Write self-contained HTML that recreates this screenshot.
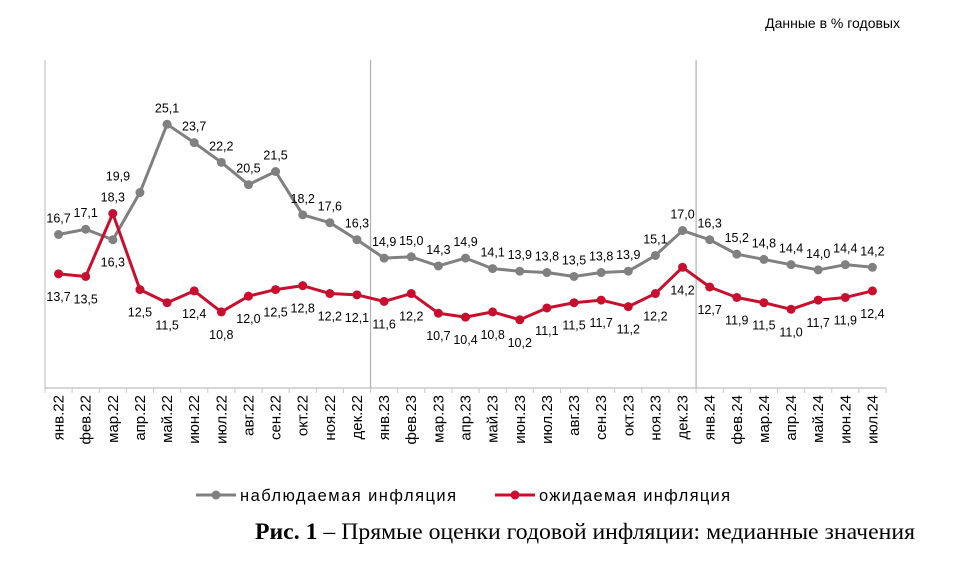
<!DOCTYPE html>
<html><head><meta charset="utf-8"><style>
body{margin:0;background:#fff;width:963px;height:575px;overflow:hidden}
svg{display:block;font-family:"Liberation Sans","DejaVu Sans",sans-serif}
</style></head><body>
<svg id="c" width="963" height="575">
<text x="900" y="28" text-anchor="end" font-size="14" fill="#000">Данные в % годовых</text>
<g id="plot"></g>
<g>
<g><line x1="196" y1="495" x2="236" y2="495" stroke="#808080" stroke-width="3"/><circle cx="216" cy="495" r="4.5" fill="#808080"/><text x="240" y="501" font-size="16.5" fill="#000" textLength="216" lengthAdjust="spacing">наблюдаемая  инфляция</text></g>
<g><line x1="495" y1="495" x2="535" y2="495" stroke="#c8102e" stroke-width="3"/><circle cx="515" cy="495" r="4.5" fill="#c8102e"/><text x="539" y="501" font-size="16.5" fill="#000" textLength="191" lengthAdjust="spacing">ожидаемая  инфляция</text></g>
</g>
<text x="255" y="539" font-size="23.5" font-family="'Liberation Serif',serif" fill="#000" textLength="660" lengthAdjust="spacingAndGlyphs"><tspan font-weight="bold">Рис. 1</tspan> – Прямые оценки годовой инфляции: медианные значения</text>
</svg>
<script>
const categories=["янв.22","фев.22","мар.22","апр.22","май.22","июн.22","июл.22","авг.22","сен.22","окт.22","ноя.22","дек.22","янв.23","фев.23","мар.23","апр.23","май.23","июн.23","июл.23","авг.23","сен.23","окт.23","ноя.23","дек.23","янв.24","фев.24","мар.24","апр.24","май.24","июн.24","июл.24"];
const observed=[16.7,17.1,16.3,19.9,25.1,23.7,22.2,20.5,21.5,18.2,17.6,16.3,14.9,15.0,14.3,14.9,14.1,13.9,13.8,13.5,13.8,13.9,15.1,17.0,16.3,15.2,14.8,14.4,14.0,14.4,14.2];
const expected=[13.7,13.5,18.3,12.5,11.5,12.4,10.8,12.0,12.5,12.8,12.2,12.1,11.6,12.2,10.7,10.4,10.8,10.2,11.1,11.5,11.7,11.2,12.2,14.2,12.7,11.9,11.5,11.0,11.7,11.9,12.4];
const yMin=5,yMax=30;
const NS="http://www.w3.org/2000/svg";
const g=document.getElementById('plot');
const L=45,R=886,T=60,B=388;
const step=(R-L)/categories.length;
const x=i=>L+step*(i+0.5);
const y=v=>B-(v-yMin)/(yMax-yMin)*(B-T);
function mk(t,a){const e=document.createElementNS(NS,t);for(const k in a)e.setAttribute(k,a[k]);g.appendChild(e);return e;}
let e;
e=mk('line',{x1:L,y1:T,x2:L,y2:B,stroke:'#d0d0d0','stroke-width':1.5});


e=mk('line',{x1:L,y1:B,x2:R,y2:B,stroke:'#c8c8c8','stroke-width':1.5});


for(let i=0;i<=categories.length;i++){
  const xx=L+step*i;
  e=mk('line',{x1:xx,y1:B,x2:xx,y2:B+5,stroke:'#c8c8c8','stroke-width':1});
  
  
  if(i===12||i===24){
    e=mk('line',{x1:xx,y1:T,x2:xx,y2:B,stroke:'#b0b0b0','stroke-width':1.2});
    
    
  }
}
categories.forEach((c,i)=>{
  const t=mk('text',{x:0,y:0,transform:`translate(${x(i)+5},395) rotate(-90)`,'text-anchor':'end','font-size':15,fill:'#000'});
  t.textContent=c;
  
  
});
function series(data,color,name,above){
  const p=mk('polyline',{points:data.map((v,i)=>x(i)+','+y(v)).join(' '),fill:'none',stroke:color,'stroke-width':3,'stroke-linejoin':'round'});
  
  
  data.forEach((v,i)=>{
    const c=mk('circle',{cx:x(i),cy:y(v),r:4.5,fill:color});
    
    
    const up=above(i);
    const t=mk('text',{x:x(i)+(name==='observed'&&i===3?-22:0),y:y(v)+(up?-12:27),'text-anchor':'middle','font-size':12.5,fill:'#000'});
    t.textContent=v.toFixed(1).replace('.',',');
    
    
  });
}
series(observed,'#808080','observed',i=>i!==2);
series(expected,'#c8102e','expected',i=>i===2);
</script>
</body></html>
